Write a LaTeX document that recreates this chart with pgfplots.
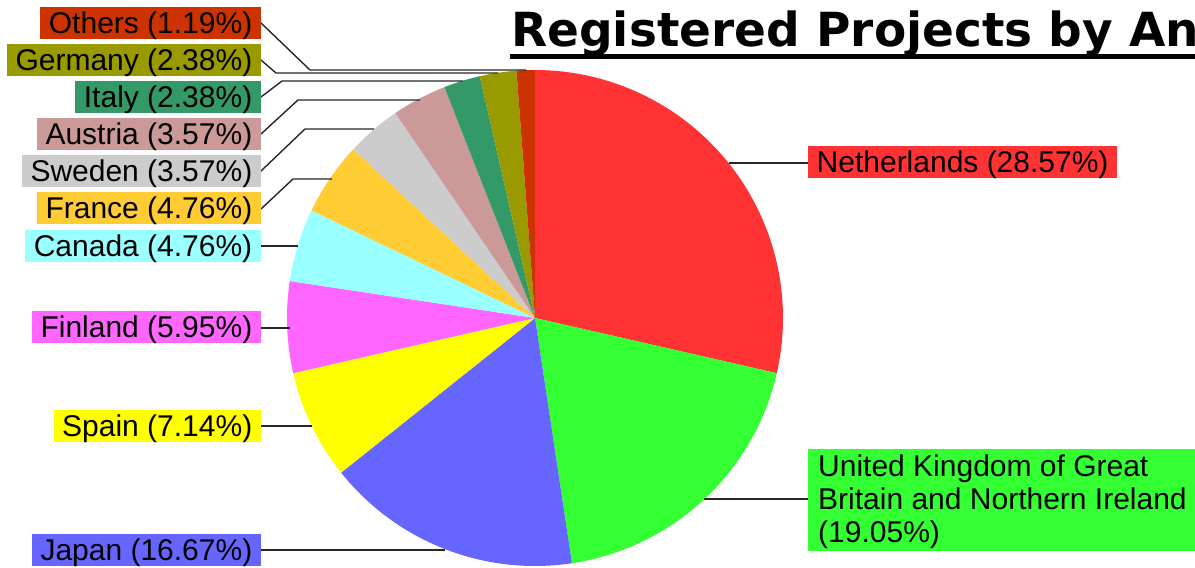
\documentclass[border=0pt]{standalone}
\usepackage{pgfplots}
\pgfplotsset{compat=1.18}
\usepackage{pgfplotstable}
\usepackage{fontspec}
\setmainfont{Liberation Sans}
\newfontfamily\titlefont{DejaVu Sans}

\definecolor{cNL}{HTML}{FF3333}
\definecolor{cUK}{HTML}{33FF33}
\definecolor{cJP}{HTML}{6666FF}
\definecolor{cES}{HTML}{FFFF00}
\definecolor{cFI}{HTML}{FF66FF}
\definecolor{cCA}{HTML}{99FFFF}
\definecolor{cFR}{HTML}{FFCC33}
\definecolor{cSE}{HTML}{CCCCCC}
\definecolor{cAT}{HTML}{CC9999}
\definecolor{cIT}{HTML}{339966}
\definecolor{cDE}{HTML}{999900}
\definecolor{cOT}{HTML}{CC3300}

% projects per country (total 84)
\pgfplotstableread[col sep=comma]{
name,count,color
Netherlands,24,cNL
UK,16,cUK
Japan,14,cJP
Spain,6,cES
Finland,5,cFI
Canada,4,cCA
France,4,cFR
Sweden,3,cSE
Austria,3,cAT
Italy,2,cIT
Germany,2,cDE
Others,1,cOT
}\piedata

\begin{document}
\begin{tikzpicture}[
  lab/.style={anchor=east, inner xsep=8.5bp, inner ysep=0pt, text height=24.5bp, text depth=3.5bp, minimum height=32bp, font=\fontsize{30bp}{33bp}\selectfont},
  lead/.style={line width=1.4bp, black!85}]
\begin{axis}[width=1195bp, height=568bp, scale only axis,
  xmin=0, xmax=1195, ymin=0, ymax=568, y dir=reverse,
  hide axis, clip=false, at={(0,0)}, anchor=south west]
\def\cum{0}
\pgfplotsforeachungrouped \i in {0,...,11}{%
  \pgfplotstablegetelem{\i}{count}\of\piedata \let\cnt\pgfplotsretval
  \pgfplotstablegetelem{\i}{color}\of\piedata \let\col\pgfplotsretval
  \pgfmathsetmacro\angA{90-(\cum/84)*360}%
  \pgfmathsetmacro\cum{\cum+\cnt}%
  \pgfmathsetmacro\angB{90-(\cum/84)*360}%
  \edef\temp{\noexpand\addplot[fill=\col, draw=none, no markers, domain=\angB:\angA, samples=90] ({535+248*cos(x)},{318-248*sin(x)}) -- (axis cs:535,318) -- cycle;}%
  \temp
}

% leader lines
\draw[lead] (axis cs:261,23) -- (axis cs:310,70) -- (axis cs:526,70);
\draw[lead] (axis cs:261,60) -- (axis cs:276,73) -- (axis cs:498,73);
\draw[lead] (axis cs:261,97) -- (axis cs:282,81) -- (axis cs:463,81);
\draw[lead] (axis cs:261,134) -- (axis cs:298,100) -- (axis cs:420,100);
\draw[lead] (axis cs:261,171) -- (axis cs:305,129) -- (axis cs:374,129);
\draw[lead] (axis cs:261,209) -- (axis cs:293,179) -- (axis cs:332,179);
\draw[lead] (axis cs:261,246) -- (axis cs:298,246);
\draw[lead] (axis cs:261,328) -- (axis cs:290,328);
\draw[lead] (axis cs:261,426) -- (axis cs:312,426);
\draw[lead] (axis cs:261,550) -- (axis cs:445,550);
\draw[lead] (axis cs:729,163) -- (axis cs:808,163);
\draw[lead] (axis cs:704,499) -- (axis cs:808,499);

% labels
\node[lab, fill=cOT] at (axis cs:261,23) {Others (1.19\%)};
\node[lab, fill=cDE] at (axis cs:261,60) {Germany (2.38\%)};
\node[lab, fill=cIT] at (axis cs:261,97) {Italy (2.38\%)};
\node[lab, fill=cAT] at (axis cs:261,134) {Austria (3.57\%)};
\node[lab, fill=cSE] at (axis cs:261,171) {Sweden (3.57\%)};
\node[lab, fill=cFR] at (axis cs:261,208) {France (4.76\%)};
\node[lab, fill=cCA] at (axis cs:261,246) {Canada (4.76\%)};
\node[lab, fill=cFI] at (axis cs:261,327) {Finland (5.95\%)};
\node[lab, fill=cES] at (axis cs:261,426) {Spain (7.14\%)};
\node[lab, fill=cJP] at (axis cs:261,550) {Japan (16.67\%)};
\node[lab, fill=cNL, anchor=west] at (axis cs:808,161.5) {Netherlands (28.57\%)};

\fill[cUK] (axis cs:808,449) rectangle (axis cs:1210,551);
\node[anchor=base west, inner sep=0pt, font=\fontsize{30bp}{33bp}\selectfont] at (axis cs:818,476) {United Kingdom of Great};
\node[anchor=base west, inner sep=0pt, font=\fontsize{30bp}{33bp}\selectfont] at (axis cs:818,509) {Britain and Northern Ireland};
\node[anchor=base west, inner sep=0pt, font=\fontsize{30bp}{33bp}\selectfont] at (axis cs:818,542) {(19.05\%)};

% title
\node[anchor=base west, inner sep=0pt, font=\titlefont\bfseries\fontsize{47bp}{50bp}\selectfont] at (axis cs:511,47) {Registered Projects by An};
\fill[black] (axis cs:510,54) rectangle (axis cs:1210,59);
\end{axis}
\pgfresetboundingbox
\path[use as bounding box] (0,0) rectangle (1195bp,568bp);
\end{tikzpicture}
\end{document}
